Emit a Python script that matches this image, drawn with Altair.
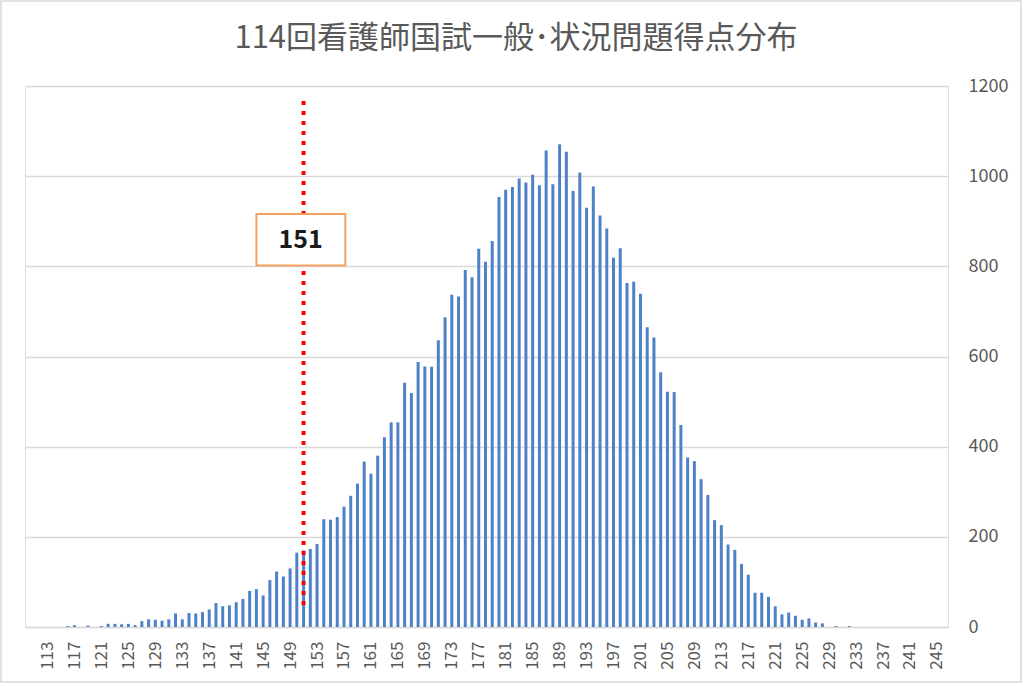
import altair as alt
import pandas as pd

# Categories (scores) and counts
scores = list(range(113, 246))
counts = [
    0, 0, 0, 2, 4, 0, 3, 0, 2, 7,          # 113-122
    7, 6, 7, 4, 13, 17, 16, 14, 17, 30,    # 123-132
    17, 31, 30, 33, 39, 53, 46, 48, 55, 62,  # 133-142
    80, 84, 70, 104, 123, 112, 130, 165, 170, 173,  # 143-152
    184, 239, 238, 244, 267, 291, 318, 367, 340, 380,  # 153-162
    421, 454, 454, 542, 519, 588, 578, 577, 636, 687,  # 163-172
    737, 733, 792, 776, 839, 810, 856, 954, 970, 976,  # 173-182
    995, 986, 1003, 980, 1057, 982, 1071, 1054, 967, 1008,  # 183-192
    930, 977, 913, 884, 819, 840, 763, 766, 739, 665,  # 193-202
    642, 565, 522, 521, 448, 376, 368, 328, 293, 237,  # 203-212
    226, 183, 171, 140, 116, 76, 76, 67, 46, 28,  # 213-222
    32, 25, 16, 19, 10, 8, 0, 2, 0, 2,  # 223-232
    0, 0, 0, 0, 0, 0, 0, 0, 0, 0, 0, 0, 0,  # 233-245
]
x_tick_labels = list(range(113, 246, 4))
y_tick_values = [0, 200, 400, 600, 800, 1000, 1200]

title_text = ["114回看護師国試一般･状況問題得点分布"]
passing_score = [151]
line_range = [49, 1176]
box_x = [144.0, 157.2]
box_y = [802, 916]
box_label = ["151"]

df = pd.DataFrame({"score": scores, "count": counts})

FONT = "Noto Sans CJK JP"
GRID = "#D9D9D9"
LABEL = "#595959"

xscale = alt.Scale(domain=[110.4, 245.9], nice=False, zero=False)
yscale = alt.Scale(domain=[0, 1200], nice=False)

X_AXIS = alt.Axis(values=x_tick_labels, labelAngle=270, ticks=False,
                  grid=False, domain=True, domainColor=GRID,
                  domainWidth=1.5, labelPadding=14, labelFontSize=17,
                  labelColor=LABEL, labelFont=FONT, title=None,
                  labelOverlap=False, labelAlign="right",
                  labelBaseline="middle")
Y_AXIS = alt.Axis(orient="right", values=y_tick_values, ticks=False,
                  domain=False, grid=True, gridColor=GRID,
                  gridWidth=1.5, labelPadding=20, labelFontSize=18,
                  labelColor=LABEL, labelFont=FONT, title=None,
                  labelAlign="left", format="d")

bars = alt.Chart(df).mark_bar(size=3, color="#4F81C7").encode(
    x=alt.X("score:Q", scale=xscale, axis=X_AXIS),
    y=alt.Y("count:Q", scale=yscale, axis=Y_AXIS),
)

line_df = pd.DataFrame({"x": passing_score, "y": [line_range[0]], "y2": [line_range[1]]})
rule = alt.Chart(line_df).mark_rule(
    color="#FF0000", strokeWidth=4, strokeDash=[4, 6], strokeCap="butt"
).encode(x=alt.X("x:Q", scale=xscale, axis=X_AXIS),
         y=alt.Y("y:Q", scale=yscale, axis=Y_AXIS), y2="y2:Q")

box_df = pd.DataFrame({"x": [box_x[0]], "x2": [box_x[1]], "y": [box_y[0]], "y2": [box_y[1]],
                       "label": box_label, "xc": passing_score,
                       "yc": [(box_y[0] + box_y[1]) / 2]})
box = alt.Chart(box_df).mark_rect(fill="white", stroke="#F5A261", strokeWidth=2).encode(
    x=alt.X("x:Q", scale=xscale, axis=X_AXIS), x2="x2:Q",
    y=alt.Y("y:Q", scale=yscale, axis=Y_AXIS), y2="y2:Q",
)
box_text = alt.Chart(box_df).mark_text(
    font=FONT, fontSize=25, fontWeight="bold", color="#1A1A1A",
    align="center", baseline="middle", dx=-3
).encode(x=alt.X("xc:Q", scale=xscale, axis=X_AXIS),
         y=alt.Y("yc:Q", scale=yscale, axis=Y_AXIS), text="label:N")

title_df = pd.DataFrame({"t": title_text})
title = alt.Chart(title_df).mark_text(
    font=FONT, fontSize=31, color=LABEL, align="center", baseline="middle"
).encode(x=alt.value(491), y=alt.value(-47), text="t:N")

border = alt.Chart(title_df).mark_rect(fill=None, stroke=GRID, strokeWidth=1.5).encode(
    x=alt.value(-24), x2=alt.value(996), y=alt.value(-85), y2=alt.value(596)
)

chart = alt.layer(border, bars, rule, box, box_text, title).properties(
    width=923,
    height=541,
    autosize=alt.AutoSizeParams(type="none"),
    padding={"left": 25, "top": 86, "right": 76, "bottom": 59},
).configure_view(strokeWidth=0).configure(background="white")

chart.save("out.html", embed_options={"renderer": "svg", "actions": False})
